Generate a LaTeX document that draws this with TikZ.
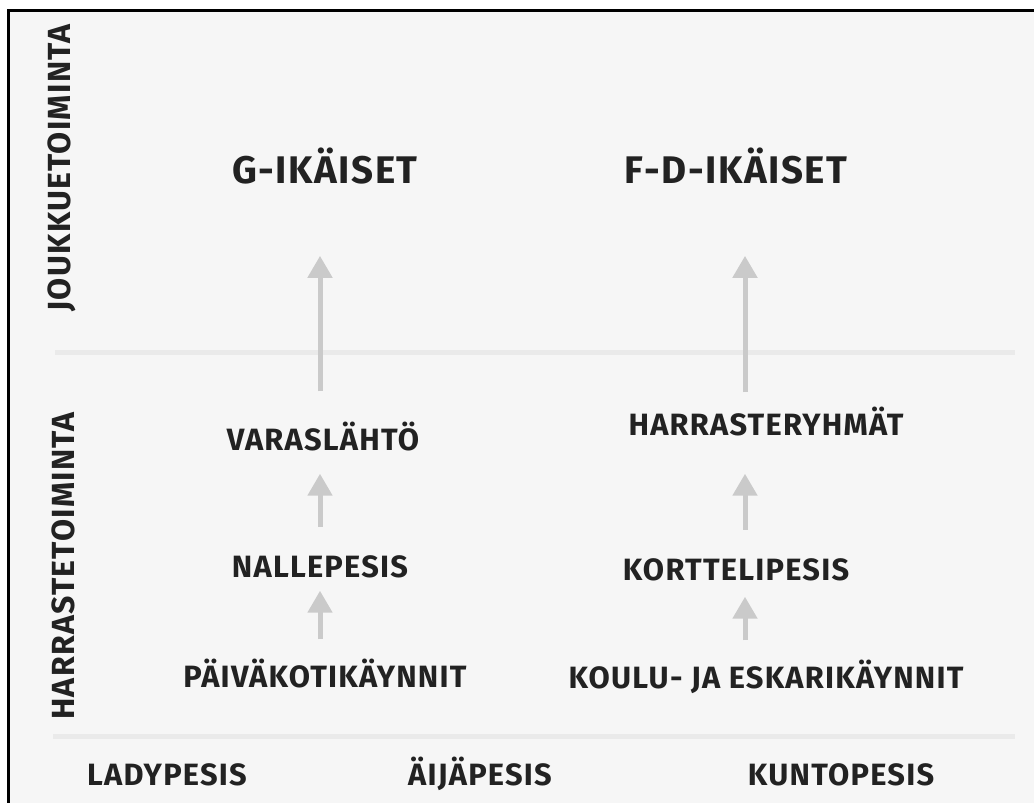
\documentclass[tikz,border=0pt]{standalone}
\usepackage{fontspec}
\setmainfont{Fira Sans}[LetterSpace=4]
\usetikzlibrary{arrows.meta}
\definecolor{bgcol}{HTML}{F6F6F6}
\definecolor{sepcol}{HTML}{EAEAEA}
\definecolor{arrcol}{HTML}{CACACA}
\definecolor{txtcol}{HTML}{222222}
\tikzset{
  lbl/.style={inner sep=0pt, anchor=base, text=txtcol, font=\fontsize{30.8}{31}\selectfont\bfseries},
  ttl/.style={inner sep=0pt, anchor=base, text=txtcol, font=\fontsize{38.5}{39}\selectfont\bfseries},
  side/.style={inner sep=0pt, anchor=center, rotate=90, text=txtcol, font=\fontsize{32}{32}\selectfont\bfseries},
  arr/.style={draw=arrcol, line width=5pt, -{Triangle[width=24pt,length=22pt]}},
  sep/.style={draw=sepcol, line width=5pt}
}
\begin{document}
\begin{tikzpicture}[x=1pt,y=-1pt]
\useasboundingbox (0,0) rectangle (1034,803);
\fill[white] (0,0) rectangle (1034,803);
\fill[bgcol] (8,10) rectangle (1040,810);
\draw[line width=3pt] (8,812) |- (1040,10);
% separators
\coordinate (s1a) at (55,352);
\coordinate (s1b) at (1015,352);
\coordinate (s2a) at (53,736);
\coordinate (s2b) at (1015,736);
\draw[sep] (s1a) -- (s1b);
\draw[sep] (s2a) -- (s2b);
% side labels
\node[side] (joukko) at (62,168) {JOUKKUETOIMINTA};
\node[side] (harrast) at (63,566) {HARRASTETOIMINTA};
% titles
\node[ttl] (gt) at (325,183) {G-IKÄISET};
\node[ttl] (fdt) at (736,183) {F-D-IKÄISET};
% left column
\node[lbl] (varas) at (323,450) {VARASLÄHTÖ};
\node[lbl] (nalle) at (320,577) {NALLEPESIS};
\node[lbl] (paiva) at (325,687) {PÄIVÄKOTIKÄYNNIT};
% right column
\node[lbl] (harr) at (766,435) {HARRASTERYHMÄT};
\node[lbl] (kort) at (736,580) {KORTTELIPESIS};
\node[lbl] (koulu) at (766,688) {KOULU- JA ESKARIKÄYNNIT};
% bottom labels
\node[lbl] (lady) at (167,785) {LADYPESIS};
\node[lbl] (aija) at (480,785) {ÄIJÄPESIS};
\node[lbl] (kunto) at (841,785) {KUNTOPESIS};
% arrow columns
\coordinate (colL) at (320,0);
\coordinate (colR) at (745,0);
% left arrows
\draw[arr, shorten <=19pt, shorten >=13pt] (paiva.north -| colL) -- (nalle.south -| colL);
\draw[arr, shorten <=28pt, shorten >=23pt] (nalle.north -| colL) -- (varas.south -| colL);
\draw[arr, shorten <=30pt, shorten >=72pt] (varas.north -| colL) -- (gt.south -| colL);
% right arrows
\draw[arr, shorten <=19pt, shorten >=16pt] (koulu.north -| colR) -- (kort.south -| colR);
\draw[arr, shorten <=28pt, shorten >=38pt] (kort.north -| colR) -- (harr.south -| colR);
\draw[arr, shorten <=14pt, shorten >=72pt] (harr.north -| colR) -- (fdt.south -| colR);
\end{tikzpicture}
\end{document}
